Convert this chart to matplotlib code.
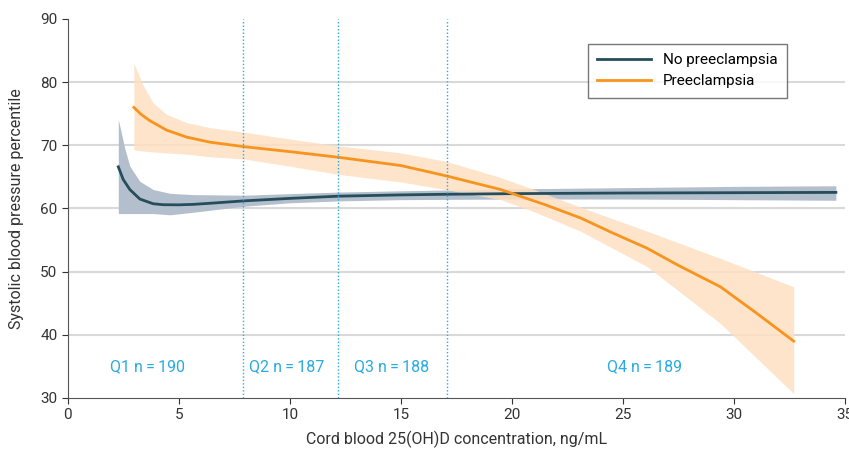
import matplotlib.pyplot as plt

plt.rcParams['font.family'] = ['Liberation Sans Narrow', 'Roboto', 'DejaVu Sans']

# No preeclampsia (curve + 95% CI)
no_x = [2.27, 2.49, 2.79, 3.24, 3.84, 4.29, 5.0, 5.64, 6.5, 7.9, 10, 12.2, 15, 17, 20, 25, 30, 34.6]
no_y = [66.6, 64.6, 63.0, 61.5, 60.75, 60.6, 60.58, 60.65, 60.85, 61.2, 61.6, 61.95, 62.15, 62.25, 62.35, 62.45, 62.5, 62.55]
no_ci_x = [2.27, 2.57, 2.79, 3.24, 3.84, 4.6, 5.64, 7.9, 10, 12.2, 15, 20, 25, 30, 34.6]
no_hi = [74.1, 69.4, 66.7, 64.3, 63.0, 62.4, 62.2, 62.1, 62.35, 62.6, 62.8, 63.1, 63.3, 63.5, 63.6]
no_lo = [59.2, 59.2, 59.2, 59.2, 59.2, 59.0, 59.4, 60.35, 60.9, 61.2, 61.4, 61.5, 61.5, 61.4, 61.3]

# Preeclampsia (curve + 95% CI)
pe_x = [2.97, 3.3, 3.69, 4.45, 5.35, 6.4, 7.9, 10, 12.2, 15, 17, 19.5, 20, 21.5, 23.1, 24.5, 26.1, 27.5, 29.4, 31, 32.7]
pe_y = [76.0, 74.9, 73.9, 72.4, 71.3, 70.5, 69.8, 69.0, 68.1, 66.8, 65.2, 63.0, 62.4, 60.6, 58.5, 56.2, 53.7, 51.0, 47.6, 43.5, 39.0]
pe_ci_x = [2.97, 3.39, 3.84, 4.45, 5.35, 6.4, 7.9, 10, 12.2, 15, 17, 19.5, 21, 23.1, 26.1, 29.4, 32.7]
pe_hi = [83.0, 79.5, 76.7, 74.9, 73.6, 72.8, 72.1, 71.0, 69.9, 68.8, 67.5, 64.9, 63.0, 60.2, 56.4, 52.1, 47.6]
pe_lo = [69.3, 69.1, 68.95, 68.8, 68.6, 68.2, 67.85, 66.7, 65.4, 64.2, 63.0, 61.4, 59.5, 56.4, 50.8, 41.8, 30.7]

# quartile cut points and labels
cuts = [7.88, 12.16, 17.07]
q_labels = ['Q1 n\u2009=\u2009190', 'Q2 n\u2009=\u2009187', 'Q3 n\u2009=\u2009188', 'Q4 n\u2009=\u2009189']
q_pos = [3.6, 9.85, 14.6, 26.0]

fig = plt.figure(figsize=(8.49, 4.49), dpi=100)
ax = fig.add_axes([0.080, 0.1136, 0.915, 0.8441])

for yg in [40, 50, 60, 70, 80]:
    ax.axhline(yg, color='#d9d9d9', lw=1.5, zorder=0)

ax.fill_between(no_ci_x, no_lo, no_hi, color='#b4bfcd', lw=0, zorder=1)
ax.fill_between(pe_ci_x, pe_lo, pe_hi, color='#fde0c2', alpha=0.85, lw=0, zorder=2)
ax.plot(no_x, no_y, color='#264d5b', lw=2, label='No preeclampsia', zorder=3)
ax.plot(pe_x, pe_y, color='#f7941d', lw=2, label='Preeclampsia', zorder=4)

for c in cuts:
    ax.axvline(c, color='#29abe2', lw=1, ls=(0, (1, 1.5)), zorder=5)
for lab, xp in zip(q_labels, q_pos):
    ax.text(xp, 35, lab, color='#29abe2', fontsize=11.5, ha='center', va='center')

ax.set_xlim(0, 35)
ax.set_ylim(30, 90)
ax.set_xticks(range(0, 36, 5))
ax.set_yticks(range(30, 91, 10))
ax.tick_params(labelsize=11, color='#333333', length=4, labelcolor='#333333')
for s in ['top', 'right']:
    ax.spines[s].set_visible(False)
for s in ['left', 'bottom']:
    ax.spines[s].set_color('#555555')
ax.set_xlabel('Cord blood 25(OH)D concentration, ng/mL', fontsize=11.5, color='#333333', labelpad=6)
ax.set_ylabel('Systolic blood pressure percentile', fontsize=11.5, color='#333333')
ax.yaxis.set_label_coords(-0.057, 0.5)

leg = ax.legend(loc='upper left', bbox_to_anchor=(0.66, 0.955), fontsize=11,
                frameon=True, fancybox=False, handlelength=3.5, borderpad=0.6)
leg.get_frame().set_edgecolor('#555555')
leg.get_frame().set_linewidth(1)

fig.savefig('out.png', dpi=100)
